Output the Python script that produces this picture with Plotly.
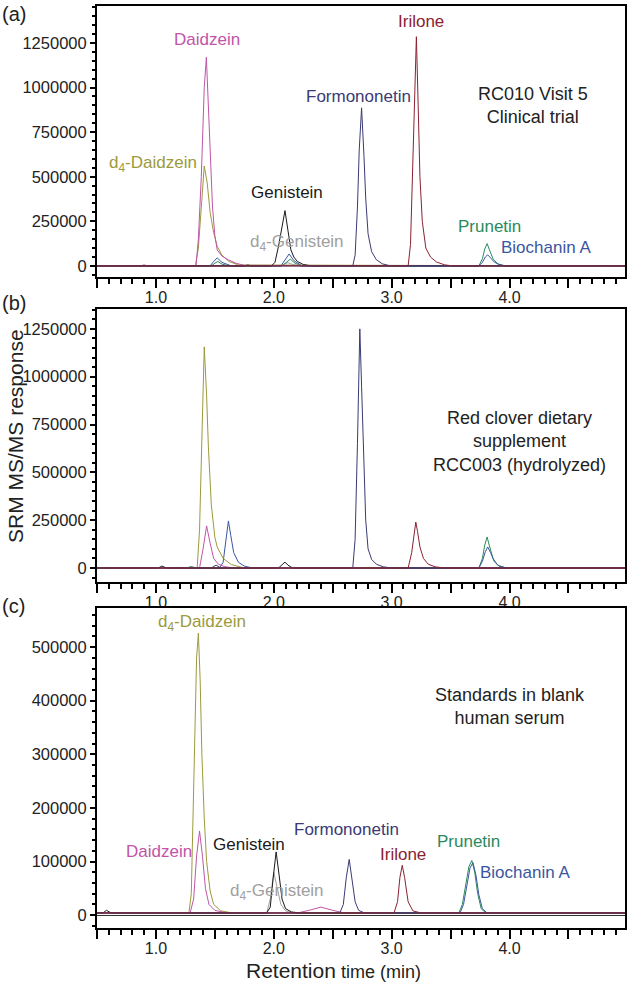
import plotly.graph_objects as go
from plotly.subplots import make_subplots

# ---- panel (a): RC010 visit 5, clinical trial ----
a_daidzein_t = [0.5, 0.87, 0.9, 0.93, 1.34, 1.36, 1.385, 1.41, 1.428, 1.445, 1.46, 1.48, 1.50, 1.52, 1.56, 1.615, 1.68, 1.75, 5.0]
a_daidzein_y = [0, 0, 6000, 0, 0, 150000, 500000, 1000000, 1170000, 900000, 650000, 330000, 170000, 90000, 55000, 34000, 15000, 3000, 0]
a_d4daidzein_t = [0.5, 1.335, 1.36, 1.385, 1.41, 1.435, 1.46, 1.49, 1.52, 1.56, 1.62, 1.70, 5.0]
a_d4daidzein_y = [0, 0, 100000, 330000, 560000, 465000, 300000, 185000, 110000, 60000, 25000, 5000, 0]
a_genistein_t = [0.5, 1.75, 1.78, 1.81, 1.98, 2.01, 2.04, 2.07, 2.095, 2.12, 2.145, 2.17, 2.20, 2.25, 2.32, 5.0]
a_genistein_y = [0, 0, 5000, 0, 0, 20000, 110000, 230000, 310000, 200000, 90000, 50000, 25000, 8000, 0, 0]
a_d4genistein_t = [0.5, 2.05, 2.09, 2.12, 2.16, 2.22, 5.0]
a_d4genistein_y = [0, 0, 10000, 18000, 8000, 0, 0]
a_formononetin_t = [0.5, 2.67, 2.69, 2.71, 2.725, 2.745, 2.765, 2.78, 2.80, 2.83, 2.87, 2.92, 2.99, 5.0]
a_formononetin_y = [0, 0, 60000, 330000, 650000, 886000, 620000, 380000, 180000, 80000, 35000, 12000, 0, 0]
a_irilone_t = [0.5, 3.14, 3.16, 3.18, 3.195, 3.21, 3.225, 3.24, 3.26, 3.29, 3.33, 3.38, 3.45, 3.52, 5.0]
a_irilone_y = [0, 0, 120000, 550000, 1000000, 1285000, 900000, 500000, 250000, 100000, 50000, 22000, 6000, 0, 0]
a_prunetin_t = [0.5, 1.47, 1.50, 1.525, 1.56, 1.62, 2.07, 2.11, 2.14, 2.18, 2.24, 3.74, 3.77, 3.79, 3.81, 3.83, 3.86, 3.90, 3.96, 5.0]
a_prunetin_y = [0, 0, 15000, 25000, 10000, 0, 0, 20000, 38000, 15000, 0, 0, 40000, 95000, 125000, 90000, 40000, 12000, 0, 0]
a_biochanin_t = [0.5, 1.46, 1.49, 1.52, 1.56, 1.64, 2.06, 2.10, 2.13, 2.17, 2.24, 3.74, 3.77, 3.795, 3.815, 3.84, 3.87, 3.91, 3.97, 5.0]
a_biochanin_y = [0, 0, 25000, 45000, 20000, 0, 0, 35000, 67000, 30000, 0, 0, 20000, 50000, 62000, 45000, 22000, 8000, 0, 0]

# ---- panel (b): red clover supplement RCC003 ----
b_daidzein_t = [0.5, 1.37, 1.40, 1.43, 1.46, 1.49, 1.53, 1.58, 1.65, 5.0]
b_daidzein_y = [0, 0, 100000, 220000, 130000, 50000, 20000, 8000, 0, 0]
b_d4daidzein_t = [0.5, 1.35, 1.37, 1.39, 1.41, 1.43, 1.445, 1.47, 1.50, 1.52, 1.57, 1.64, 1.75, 5.0]
b_d4daidzein_y = [0, 0, 200000, 700000, 1156000, 900000, 633000, 330000, 160000, 110000, 50000, 18000, 0, 0]
b_genistein_t = [0.5, 1.02, 1.05, 1.09, 2.04, 2.07, 2.095, 2.12, 2.16, 5.0]
b_genistein_y = [0, 0, 10000, 0, 0, 15000, 31000, 15000, 0, 0]
b_d4genistein_t = [0.5, 5.0]
b_d4genistein_y = [0, 0]
b_formononetin_t = [0.5, 1.47, 1.51, 1.55, 2.67, 2.69, 2.71, 2.73, 2.745, 2.76, 2.78, 2.80, 2.83, 2.87, 2.93, 3.0, 5.0]
b_formononetin_y = [0, 0, 15000, 0, 0, 150000, 650000, 1250000, 950000, 633000, 250000, 100000, 45000, 20000, 6000, 0, 0]
b_irilone_t = [0.5, 3.14, 3.17, 3.19, 3.205, 3.22, 3.24, 3.27, 3.31, 3.37, 3.45, 5.0]
b_irilone_y = [0, 0, 80000, 190000, 240000, 190000, 110000, 50000, 20000, 6000, 0, 0]
b_prunetin_t = [0.5, 1.26, 1.30, 1.34, 3.74, 3.77, 3.79, 3.81, 3.83, 3.86, 3.90, 3.97, 5.0]
b_prunetin_y = [0, 0, 8000, 0, 0, 50000, 120000, 162000, 115000, 50000, 15000, 0, 0]
b_biochanin_t = [0.5, 1.54, 1.57, 1.595, 1.615, 1.635, 1.66, 1.70, 1.75, 1.82, 3.74, 3.77, 3.795, 3.815, 3.84, 3.87, 3.91, 3.98, 5.0]
b_biochanin_y = [0, 0, 30000, 150000, 246000, 170000, 80000, 30000, 10000, 0, 0, 35000, 85000, 110000, 80000, 35000, 10000, 0, 0]

# ---- panel (c): standards in blank human serum ----
c_daidzein_t = [0.5, 1.29, 1.32, 1.345, 1.37, 1.395, 1.42, 1.45, 1.50, 1.58, 1.70, 2.2, 2.3, 2.4, 2.5, 2.6, 5.0]
c_daidzein_y = [4000, 4000, 30000, 110000, 157000, 110000, 50000, 20000, 9000, 5000, 4000, 4000, 9000, 15000, 9000, 4000, 4000]
c_d4daidzein_t = [0.5, 1.28, 1.30, 1.325, 1.345, 1.36, 1.375, 1.39, 1.41, 1.43, 1.46, 1.49, 1.55, 1.65, 5.0]
c_d4daidzein_y = [4000, 4000, 40000, 300000, 480000, 526000, 440000, 300000, 180000, 100000, 45000, 20000, 8000, 4000, 4000]
c_genistein_t = [0.5, 0.55, 0.58, 0.62, 1.94, 1.97, 1.995, 2.02, 2.045, 2.07, 2.10, 2.15, 2.22, 5.0]
c_genistein_y = [4000, 4000, 9000, 4000, 4000, 15000, 70000, 118000, 75000, 30000, 12000, 6000, 4000, 4000]
c_d4genistein_t = [0.5, 1.94, 1.97, 2.0, 2.03, 2.06, 2.10, 2.16, 5.0]
c_d4genistein_y = [4000, 4000, 30000, 80000, 50000, 20000, 8000, 4000, 4000]
c_formononetin_t = [0.5, 2.56, 2.59, 2.615, 2.64, 2.665, 2.69, 2.72, 2.77, 5.0]
c_formononetin_y = [4000, 4000, 20000, 70000, 104000, 65000, 25000, 9000, 4000, 4000]
c_irilone_t = [0.5, 3.02, 3.05, 3.07, 3.09, 3.11, 3.14, 3.18, 3.25, 5.0]
c_irilone_y = [4000, 4000, 25000, 70000, 93000, 70000, 25000, 8000, 4000, 4000]
c_prunetin_t = [0.5, 3.57, 3.60, 3.63, 3.655, 3.68, 3.705, 3.73, 3.76, 3.80, 5.0]
c_prunetin_y = [4000, 4000, 20000, 55000, 90000, 102000, 80000, 40000, 12000, 4000, 4000]
c_biochanin_t = [0.5, 3.58, 3.61, 3.64, 3.665, 3.69, 3.715, 3.74, 3.77, 3.81, 5.0]
c_biochanin_y = [4000, 4000, 20000, 55000, 88000, 98000, 75000, 38000, 12000, 4000, 4000]

colors = {
    "Daidzein": "#C055A8",
    "d4-Daidzein": "#9C9A3C",
    "Genistein": "#1A1A1A",
    "d4-Genistein": "#A0A0A0",
    "Formononetin": "#3A3A74",
    "Irilone": "#8A2232",
    "Prunetin": "#2A8A5C",
    "Biochanin A": "#3A56A0",
}

FONT = "Liberation Sans, Arial, Helvetica, sans-serif"

fig = make_subplots(rows=3, cols=1)

panels = [
    (1, [("d4-Genistein", a_d4genistein_t, a_d4genistein_y),
         ("Prunetin", a_prunetin_t, a_prunetin_y),
         ("Biochanin A", a_biochanin_t, a_biochanin_y),
         ("d4-Daidzein", a_d4daidzein_t, a_d4daidzein_y),
         ("Daidzein", a_daidzein_t, a_daidzein_y),
         ("Genistein", a_genistein_t, a_genistein_y),
         ("Formononetin", a_formononetin_t, a_formononetin_y),
         ("Irilone", a_irilone_t, a_irilone_y)]),
    (2, [("d4-Genistein", b_d4genistein_t, b_d4genistein_y),
         ("Prunetin", b_prunetin_t, b_prunetin_y),
         ("Biochanin A", b_biochanin_t, b_biochanin_y),
         ("d4-Daidzein", b_d4daidzein_t, b_d4daidzein_y),
         ("Daidzein", b_daidzein_t, b_daidzein_y),
         ("Genistein", b_genistein_t, b_genistein_y),
         ("Formononetin", b_formononetin_t, b_formononetin_y),
         ("Irilone", b_irilone_t, b_irilone_y)]),
    (3, [("d4-Genistein", c_d4genistein_t, c_d4genistein_y),
         ("Prunetin", c_prunetin_t, c_prunetin_y),
         ("Biochanin A", c_biochanin_t, c_biochanin_y),
         ("d4-Daidzein", c_d4daidzein_t, c_d4daidzein_y),
         ("Daidzein", c_daidzein_t, c_daidzein_y),
         ("Genistein", c_genistein_t, c_genistein_y),
         ("Formononetin", c_formononetin_t, c_formononetin_y),
         ("Irilone", c_irilone_t, c_irilone_y)]),
]

for row, traces in panels:
    for name, t, y in traces:
        fig.add_trace(go.Scatter(x=t, y=y, mode="lines", name=name, showlegend=False,
                                 line=dict(color=colors[name], width=1)), row=row, col=1)

# axes
domains = [(0.7061, 1.0), (0.3753, 0.6714), (0.0, 0.3471)]
y_ranges = [(-62000, 1457000), (-73000, 1354000), (-24000, 573000)]
y_dtick = [250000, 250000, 100000]
y_minor = [50000, 50000, 20000]
zero_colors = ["black", "#9A9A9A", "#333333"]
zero_widths = [1.3, 0.8, 1.2]

for i in range(3):
    fig.update_yaxes(row=i + 1, col=1, domain=domains[i], range=y_ranges[i],
                     tick0=0, dtick=y_dtick[i], tickformat="d",
                     ticks="outside", ticklen=5, tickwidth=1.5, tickcolor="black",
                     minor=dict(dtick=y_minor[i], tick0=0, ticks="outside", ticklen=3, tickcolor="black"),
                     showline=True, linecolor="black", linewidth=2, mirror=True,
                     showgrid=False, zeroline=True, zerolinecolor=zero_colors[i],
                     zerolinewidth=zero_widths[i],
                     tickfont=dict(size=16.5, color="#222222", family=FONT))
    fig.update_xaxes(row=i + 1, col=1, range=[0.5, 4.98],
                     tick0=0, dtick=0.5, ticklabelstep=2, tickformat=".1f",
                     ticks="outside", ticklen=9, tickwidth=1.5, tickcolor="black",
                     minor=dict(dtick=0.1, tick0=0.5, ticks="outside", ticklen=5, tickcolor="black"),
                     showline=True, linecolor="black", linewidth=2, mirror=True,
                     showgrid=False, zeroline=False, ticklabelstandoff=-4,
                     tickfont=dict(size=16, color="#222222", family=FONT))

ann = []

def label(text, x, y, ax, color, size=17):
    ann.append(dict(text=text, x=x, y=y, xref="x" + ax, yref="y" + ax, showarrow=False,
                    font=dict(size=size, color=color, family=FONT)))

# panel (a)
label("Daidzein", 1.436, 1267000, "", colors["Daidzein"])
label("d<sub>4</sub>-Daidzein", 0.975, 572000, "", colors["d4-Daidzein"])
label("Genistein", 2.11, 409000, "", colors["Genistein"])
label("d<sub>4</sub>-Genistein", 2.2, 129000, "", colors["d4-Genistein"])
label("Formononetin", 2.72, 947000, "", colors["Formononetin"])
label("Irilone", 3.25, 1368000, "", colors["Irilone"])
label("Prunetin", 3.83, 219000, "", colors["Prunetin"])
label("Biochanin A", 4.31, 106000, "", colors["Biochanin A"])
label("RC010 Visit 5<br>Clinical trial", 4.2, 900000, "", "#222222", 18)

# panel (b)
label("Red clover dietary<br>supplement<br>RCC003 (hydrolyzed)", 4.085, 660000, "2", "#222222", 18)

# panel (c)
label("d<sub>4</sub>-Daidzein", 1.39, 545000, "3", colors["d4-Daidzein"])
label("Daidzein", 1.03, 118000, "3", colors["Daidzein"])
label("Genistein", 1.79, 132000, "3", colors["Genistein"])
label("d<sub>4</sub>-Genistein", 2.03, 43000, "3", colors["d4-Genistein"])
label("Formononetin", 2.62, 159000, "3", colors["Formononetin"])
label("Irilone", 3.10, 114000, "3", colors["Irilone"])
label("Prunetin", 3.65, 138000, "3", colors["Prunetin"])
label("Biochanin A", 4.13, 80000, "3", colors["Biochanin A"])
label("Standards in blank<br>human serum", 4.0, 390000, "3", "#222222", 18)

# panel letters, axis titles
for txt, yp in [("(a)", 14), ("(b)", 303), ("(c)", 606)]:
    ann.append(dict(text=txt, x=0, y=(928 - yp) / 922, xref="paper", yref="paper",
                    xanchor="left", yanchor="middle", xshift=-97, showarrow=False,
                    font=dict(size=20, color="#222222", family=FONT)))
ann.append(dict(text="SRM MS/MS response", textangle=-90, x=0, y=(928 - 436) / 922,
                xref="paper", yref="paper", xanchor="center", yanchor="middle",
                xshift=-82, showarrow=False,
                font=dict(size=21, color="#222222", family=FONT)))
ann.append(dict(text="<span style='font-size:21px'>Retention</span> time (min)",
                x=0.5, y=0, xref="paper", yref="paper", xanchor="center", yanchor="middle",
                yshift=-42, xshift=-28, showarrow=False,
                font=dict(size=18, color="#222222", family=FONT)))

fig.update_layout(width=630, height=982, margin=dict(l=97, r=3, t=6, b=54),
                  plot_bgcolor="white", paper_bgcolor="white",
                  annotations=ann, font=dict(family=FONT))

fig.write_html("out.html", config={"displayModeBar": False},
               post_script="document.body.style.margin='0';")
